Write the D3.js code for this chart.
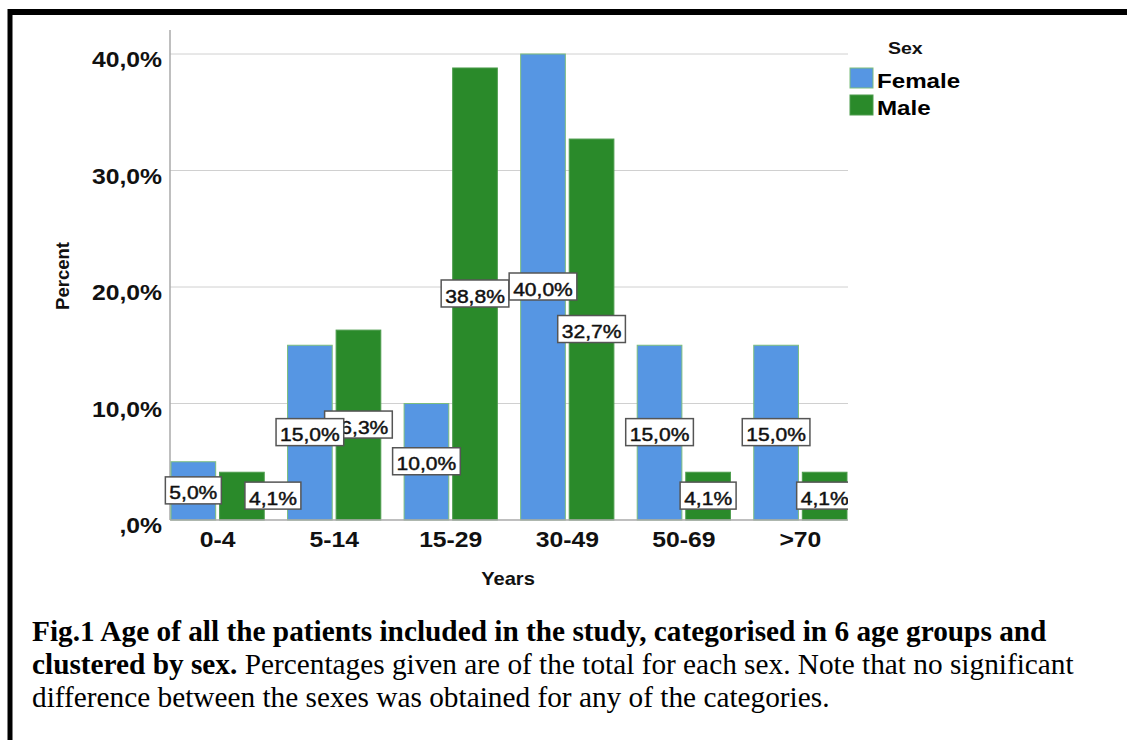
<!DOCTYPE html>
<html>
<head>
<meta charset="utf-8">
<script src="https://cdn.jsdelivr.net/npm/d3@7"></script>
<style>
  body { margin: 0; background: #fff; }
  svg { display: block; }
</style>
</head>
<body>
<div id="chart"></div>
<script>
// data
const ageGroups = ["0-4", "5-14", "15-29", "30-49", "50-69", ">70"]
const sexes = ["Female", "Male"]
const femalePct = [5.0, 15.0, 10.0, 40.0, 15.0, 15.0]
const malePct = [4.1, 16.3, 38.8, 32.7, 4.1, 4.1]
const yTicks = [0, 10, 20, 30, 40]

const width = 1127
const height = 740
const colors = {Female: "#5696e3", Male: "#2a8a2a"}
const strokes = {Female: "#7dbd7d", Male: "#4c9c4c"}
const sansFont = "Liberation Sans, Arial, sans-serif"
// the chart picture in the original is a bit wider than tall, so chart text is stretched
const sx = 1.15

// label of 0-4 male is pushed to the right in the original to dodge the female one
const labelNudge = {"0-4|Male": 31}

// SPSS style: 40,0%  ...  ,0%
const fmt = v => d3.format(".1f")(v).replace(/^0\./, ".").replace(".", ",") + "%"

const rows = ageGroups.map((g, i) => ({group: g, Female: femalePct[i], Male: malePct[i]}))

// stretch text horizontally around its own anchor
function stretch(sel) {
  sel.attr("transform", function() {
    const x = +this.getAttribute("x") || 0
    const y = +this.getAttribute("y") || 0
    return "translate(" + x + "," + y + ") scale(" + sx + ",1) translate(" + (-x) + "," + (-y) + ")"
  })
}

const svg = d3.select("#chart").append("svg")
    .attr("width", width)
    .attr("height", height)

// frame (only top and left are in the picture)
svg.append("line").attr("x1", 10).attr("x2", 10).attr("y1", 9).attr("y2", 740)
    .attr("stroke", "#000").attr("stroke-width", 5)
svg.append("line").attr("x1", 8).attr("x2", 1127).attr("y1", 12).attr("y2", 12)
    .attr("stroke", "#000").attr("stroke-width", 6)

const plot = {left: 170, right: 848, top: 30, bottom: 520}

const x0 = d3.scaleBand()
    .domain(ageGroups)
    .range([171, 847])
    .paddingInner(0.2)
    .paddingOuter(0)

const x1 = d3.scaleBand()
    .domain(sexes)
    .range([0, x0.bandwidth()])
    .paddingInner(0.08)

const y = d3.scaleLinear()
    .domain([0, 40])
    .range([plot.bottom, 54])

// gridlines
svg.append("g")
    .selectAll("line")
    .data(yTicks.filter(d => d > 0))
    .enter().append("line")
    .attr("x1", plot.left).attr("x2", plot.right)
    .attr("y1", d => y(d)).attr("y2", d => y(d))
    .attr("stroke", "#d0d0d0")
    .attr("stroke-width", 1)

// y axis
const yAxis = svg.append("g")
    .attr("transform", "translate(" + plot.left + ",0)")
    .call(d3.axisLeft(y).tickValues(yTicks).tickSize(0).tickPadding(8).tickFormat(fmt))
yAxis.select(".domain").remove()
yAxis.selectAll("text")
    .attr("font-family", sansFont)
    .attr("font-size", "21.5px")
    .attr("font-weight", "bold")
    .attr("fill", "#111")
    .attr("dy", "12.5px")
    .call(stretch)
svg.append("line")
    .attr("x1", plot.left).attr("x2", plot.left)
    .attr("y1", plot.top).attr("y2", plot.bottom)
    .attr("stroke", "#aaa").attr("stroke-width", 1.5)

// bars
const groups = svg.append("g")
    .selectAll("g")
    .data(rows)
    .enter().append("g")
    .attr("transform", d => "translate(" + x0(d.group) + ",0)")

groups.selectAll("rect")
    .data(d => sexes.map(s => ({group: d.group, sex: s, value: d[s]})))
    .enter().append("rect")
    .attr("x", d => x1(d.sex))
    .attr("y", d => y(d.value))
    .attr("width", x1.bandwidth())
    .attr("height", d => y(0) - y(d.value))
    .attr("fill", d => colors[d.sex])
    .attr("stroke", d => strokes[d.sex])
    .attr("stroke-width", 1)

// x axis
svg.append("line")
    .attr("x1", plot.left).attr("x2", plot.right)
    .attr("y1", plot.bottom).attr("y2", plot.bottom)
    .attr("stroke", "#aaa").attr("stroke-width", 1.5)

const xAxis = svg.append("g")
    .attr("transform", "translate(0," + plot.bottom + ")")
    .call(d3.axisBottom(x0).tickSize(0))
xAxis.select(".domain").remove()
xAxis.selectAll("text")
    .attr("font-family", sansFont)
    .attr("font-size", "21.5px")
    .attr("font-weight", "bold")
    .attr("fill", "#111")
    .attr("y", 27)
    .attr("dy", 0)
    .call(stretch)

// value labels, clipped at the right edge of the plot
svg.append("clipPath").attr("id", "plotclip")
  .append("rect")
    .attr("x", 0).attr("y", 0)
    .attr("width", plot.right).attr("height", plot.bottom + 2)

const labelData = []
rows.forEach(r => {
  sexes.forEach(s => labelData.push({group: r.group, sex: s, value: r[s]}))
})
// female labels are drawn on top
labelData.sort((a, b) => (a.sex === "Male" ? 0 : 1) - (b.sex === "Male" ? 0 : 1))

const labels = svg.append("g")
    .attr("clip-path", "url(#plotclip)")
    .selectAll("g")
    .data(labelData)
    .enter().append("g")
    .attr("transform", d => {
      const cx = x0(d.group) + x1(d.sex) + x1.bandwidth() / 2 + (labelNudge[d.group + "|" + d.sex] || 0)
      const cy = (y(d.value) + y(0)) / 2
      return "translate(" + cx + "," + cy + ")"
    })

labels.append("text")
    .attr("x", 0).attr("y", 8.5)
    .attr("text-anchor", "middle")
    .attr("font-family", sansFont)
    .attr("font-size", "18.3px")
    .attr("fill", "#111")
    .attr("stroke", "#111")
    .attr("stroke-width", 0.45)
    .text(d => fmt(d.value))
    .call(stretch)

labels.each(function() {
  const g = d3.select(this)
  const w = g.select("text").node().getBBox().width * sx + 8
  g.insert("rect", "text")
      .attr("x", -w / 2)
      .attr("y", -14)
      .attr("width", w)
      .attr("height", 27)
      .attr("fill", "#fff")
      .attr("stroke", "#555")
      .attr("stroke-width", 1.5)
})

// axis titles
svg.append("text")
    .attr("transform", "translate(69,276) rotate(-90)")
    .attr("text-anchor", "middle")
    .attr("font-family", sansFont)
    .attr("font-size", "18.5px")
    .attr("font-weight", "bold")
    .attr("fill", "#111")
    .text("Percent")

svg.append("text")
    .attr("x", 508).attr("y", 585)
    .attr("text-anchor", "middle")
    .attr("font-family", sansFont)
    .attr("font-size", "17.5px")
    .attr("font-weight", "bold")
    .attr("fill", "#111")
    .text("Years")
    .call(stretch)

// legend
const legend = svg.append("g").attr("transform", "translate(850,0)")
legend.append("text")
    .attr("x", 38).attr("y", 54)
    .attr("font-family", sansFont)
    .attr("font-size", "17px")
    .attr("font-weight", "bold")
    .attr("fill", "#111")
    .text("Sex")
    .call(stretch)

const items = legend.selectAll(".item")
    .data(sexes)
    .enter().append("g")
    .attr("class", "item")
    .attr("transform", (d, i) => "translate(0," + (68 + i * 27) + ")")
items.append("rect")
    .attr("width", 23).attr("height", 20)
    .attr("fill", d => colors[d])
    .attr("stroke", d => strokes[d])
    .attr("stroke-width", 1)
items.append("text")
    .attr("x", 27).attr("y", 20)
    .attr("font-family", sansFont)
    .attr("font-size", "21px")
    .attr("font-weight", "bold")
    .attr("fill", "#000")
    .text(d => d)
    .call(stretch)

// caption
const caption = svg.append("g")
    .attr("font-family", "Liberation Serif, Times New Roman, serif")
    .attr("font-size", "29.3px")
    .attr("fill", "#000")
caption.append("text").attr("x", 32).attr("y", 641)
    .attr("font-weight", "bold")
    .text("Fig.1 Age of all the patients included in the study, categorised in 6 age groups and")
const l2 = caption.append("text").attr("x", 32).attr("y", 674)
l2.append("tspan").attr("font-weight", "bold").text("clustered by sex.")
l2.append("tspan").text(" Percentages given are of the total for each sex. Note that no significant")
caption.append("text").attr("x", 32).attr("y", 707)
    .text("difference between the sexes was obtained for any of the categories.")
</script>
</body>
</html>
